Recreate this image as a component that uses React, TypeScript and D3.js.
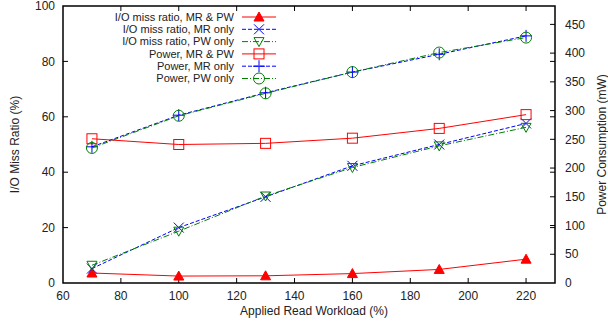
import React from "react";
import * as d3 from "d3";

// applied read workload (%)
const workload = [70, 100, 130, 160, 190, 220];

// I/O miss ratio (%) – left axis
const missBoth = [3.6, 2.5, 2.6, 3.4, 4.9, 8.6];
const missMR = [5.2, 20.0, 31.1, 42.3, 50.0, 57.6];
const missPW = [6.4, 18.7, 31.4, 41.7, 49.5, 56.2];

// power consumption (mW) – right axis
const powerBoth = [251, 241, 243, 252, 269, 293];
const powerMR = [237, 292, 331, 367, 398, 430];
const powerPW = [235, 291, 330, 367, 401, 427];

const xTicks = [60, 80, 100, 120, 140, 160, 180, 200, 220];
const yTicks = [0, 20, 40, 60, 80, 100];
const y2Ticks = [0, 50, 100, 150, 200, 250, 300, 350, 400, 450];

const W = 608;
const H = 326;
const left = 63;
const right = 555;
const top = 6;
const bottom = 283;

const RED = "#ff0000";
const BLUE = "#0000ff";
const GREEN = "#008000";
const FONT = "Liberation Sans, Arial, sans-serif";

type Series = {
  name: string;
  values: number[];
  axis: "y" | "y2";
  color: string;
  dash: string | undefined;
  marker: string;
};

const series: Series[] = [
  { name: "I/O miss ratio, MR & PW", values: missBoth, axis: "y", color: RED, dash: undefined, marker: "triUp" },
  { name: "I/O miss ratio, MR only", values: missMR, axis: "y", color: BLUE, dash: "4,2", marker: "cross" },
  { name: "I/O miss ratio, PW only", values: missPW, axis: "y", color: GREEN, dash: "6,2,1,2", marker: "triDown" },
  { name: "Power, MR & PW", values: powerBoth, axis: "y2", color: RED, dash: undefined, marker: "square" },
  { name: "Power, MR only", values: powerMR, axis: "y2", color: BLUE, dash: "4,2", marker: "plus" },
  { name: "Power, PW only", values: powerPW, axis: "y2", color: GREEN, dash: "6,2,1,2", marker: "circle" },
];

function Marker({ kind, x, y, color }: { kind: string; x: number; y: number; color: string }) {
  const s = 5;
  switch (kind) {
    case "triUp":
      return <path d={`M${x},${y - s}L${x + s},${y + 4}L${x - s},${y + 4}Z`} fill={color} stroke={color} strokeWidth={1} />;
    case "triDown":
      return <path d={`M${x},${y + s}L${x + s},${y - 4}L${x - s},${y - 4}Z`} fill="none" stroke={color} strokeWidth={1} />;
    case "cross":
      return <path d={`M${x - s},${y - s}L${x + s},${y + s}M${x - s},${y + s}L${x + s},${y - s}`} stroke={color} strokeWidth={1} />;
    case "plus":
      return <path d={`M${x - s - 1},${y}L${x + s + 1},${y}M${x},${y - s - 1}L${x},${y + s + 1}`} stroke={color} strokeWidth={1} />;
    case "square":
      return <rect x={x - s} y={y - s} width={2 * s} height={2 * s} fill="none" stroke={color} strokeWidth={1} />;
    case "circle":
      return <circle cx={x} cy={y} r={5.5} fill="none" stroke={color} strokeWidth={1} />;
  }
  return null;
}

export default function App() {
  const x = d3.scaleLinear().domain([60, 230]).range([left, right]);
  const y = d3.scaleLinear().domain([0, 100]).range([bottom, top]);
  const y2 = d3.scaleLinear().domain([0, 482]).range([bottom, top]);

  const lineFor = (s: Series) => {
    const sc = s.axis === "y" ? y : y2;
    return d3
      .line<number>()
      .x((_, i) => x(workload[i]))
      .y((d) => sc(d))(s.values) as string;
  };

  const legendTextX = 234;
  const sampleX0 = 242;
  const sampleX1 = 276;
  const legendY = (i: number) => 17 + i * 12.3;

  return (
    <svg
      width={W}
      height={H}
      style={{ position: "absolute", left: 0, top: 0, background: "#fff" }}
      fontFamily={FONT}
      fontSize={12}
    >
      <rect width={W} height={H} fill="#fff" />

      {/* x ticks, bottom and mirrored on top */}
      {xTicks.map((t) => (
        <g key={"x" + t}>
          {t > 60 && <line x1={x(t)} x2={x(t)} y1={bottom} y2={bottom - 5} stroke="#000" />}
          {t > 60 && <line x1={x(t)} x2={x(t)} y1={top} y2={top + 5} stroke="#000" />}
          <text x={x(t)} y={bottom + 17} textAnchor="middle" fill="#222">
            {t}
          </text>
        </g>
      ))}

      {/* left y ticks, mirrored on right */}
      {yTicks.map((t) => (
        <g key={"y" + t}>
          {t > 0 && t < 100 && <line x1={left} x2={left + 5} y1={y(t)} y2={y(t)} stroke="#000" />}
          {t > 0 && t < 100 && <line x1={right} x2={right - 5} y1={y(t)} y2={y(t)} stroke="#000" />}
          <text x={55} y={y(t)} dy="0.35em" textAnchor="end" fill="#222">
            {t}
          </text>
        </g>
      ))}

      {/* right y2 ticks */}
      {y2Ticks.map((t) => (
        <g key={"y2" + t}>
          {t > 0 && <line x1={right} x2={right - 5} y1={y2(t)} y2={y2(t)} stroke="#000" />}
          <text x={565} y={y2(t)} dy="0.35em" textAnchor="start" fill="#222">
            {t}
          </text>
        </g>
      ))}

      {/* series */}
      {series.map((s) => (
        <g key={s.name}>
          <path d={lineFor(s)} fill="none" stroke={s.color} strokeWidth={1} strokeDasharray={s.dash} />
          {s.values.map((v, i) => (
            <Marker key={i} kind={s.marker} x={x(workload[i])} y={(s.axis === "y" ? y : y2)(v)} color={s.color} />
          ))}
        </g>
      ))}

      {/* legend */}
      {series.map((s, i) => (
        <g key={"leg" + s.name}>
          <text x={legendTextX} y={legendY(i)} dy="0.35em" textAnchor="end" fill="#222" fontSize={11}>
            {s.name}
          </text>
          <line x1={sampleX0} x2={sampleX1} y1={legendY(i)} y2={legendY(i)} stroke={s.color} strokeDasharray={s.dash} />
          <Marker kind={s.marker} x={(sampleX0 + sampleX1) / 2} y={legendY(i)} color={s.color} />
        </g>
      ))}

      {/* border */}
      <rect x={left} y={top} width={right - left} height={bottom - top} fill="none" stroke="#000" strokeWidth={1.5} />

      {/* axis titles */}
      <text x={(left + right) / 2 + 5} y={315} textAnchor="middle" fill="#222">
        Applied Read Workload (%)
      </text>
      <text transform={`translate(15,${(top + bottom) / 2}) rotate(-90)`} dy="0.35em" textAnchor="middle" fill="#222">
        I/O Miss Ratio (%)
      </text>
      <text transform={`translate(602,${(top + bottom) / 2}) rotate(-90)`} dy="0.35em" textAnchor="middle" fill="#222">
        Power Consumption (mW)
      </text>
    </svg>
  );
}
